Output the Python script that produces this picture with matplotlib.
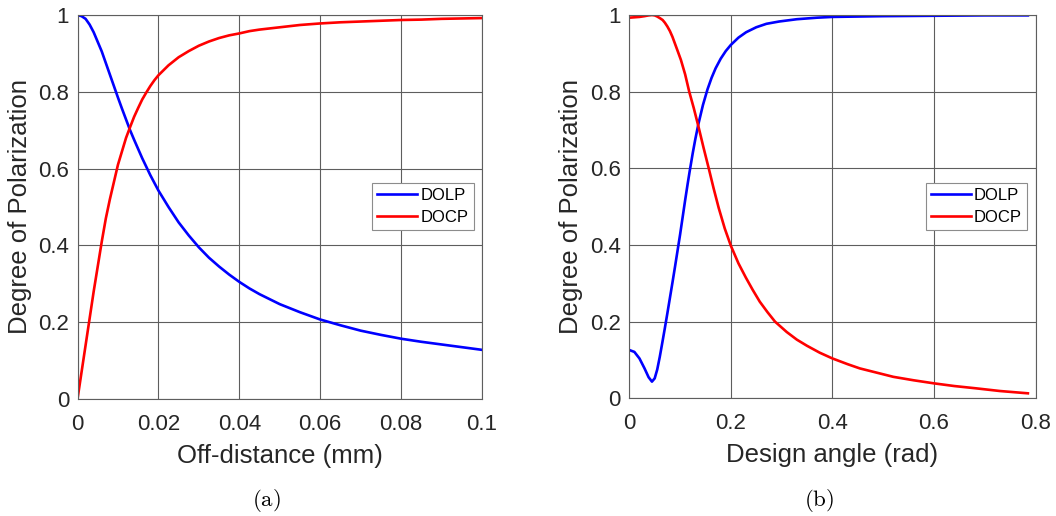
import matplotlib
matplotlib.use('Agg')
import matplotlib.pyplot as plt

plt.rcParams['font.family'] = ['Liberation Sans', 'DejaVu Sans']
plt.rcParams['mathtext.fontset'] = 'cm'

# (a) degree of polarization vs off-distance
off_mm = [0, 0.001, 0.002, 0.003, 0.004, 0.005, 0.006, 0.007, 0.008, 0.009,
          0.010, 0.011, 0.012, 0.013, 0.014, 0.015, 0.016, 0.017, 0.018,
          0.019, 0.020, 0.0225, 0.025, 0.0275, 0.030, 0.0325, 0.035, 0.0375,
          0.040, 0.0425, 0.045, 0.0475, 0.050, 0.055, 0.060, 0.065, 0.070,
          0.075, 0.080, 0.085, 0.090, 0.095, 0.100]
dolp_a = [1.0, 0.997, 0.99, 0.975, 0.955, 0.93, 0.905, 0.875, 0.845, 0.815,
          0.785, 0.756, 0.728, 0.70, 0.675, 0.651, 0.627, 0.605, 0.583,
          0.563, 0.543, 0.50, 0.46, 0.426, 0.395, 0.368, 0.345, 0.324,
          0.305, 0.288, 0.273, 0.26, 0.247, 0.226, 0.207, 0.192, 0.178,
          0.167, 0.157, 0.149, 0.142, 0.135, 0.128]
docp_a = [0.0, 0.07, 0.14, 0.21, 0.28, 0.345, 0.41, 0.47, 0.52, 0.565,
          0.61, 0.645, 0.68, 0.708, 0.735, 0.758, 0.78, 0.798, 0.815,
          0.83, 0.843, 0.869, 0.89, 0.906, 0.92, 0.931, 0.94, 0.947,
          0.952, 0.958, 0.962, 0.965, 0.968, 0.974, 0.978, 0.981, 0.983,
          0.985, 0.987, 0.988, 0.99, 0.991, 0.992]

# (b) degree of polarization vs design angle
ang_dolp = [0, 0.01, 0.02, 0.03, 0.038, 0.0446, 0.05, 0.055, 0.06, 0.065,
            0.07, 0.075, 0.08, 0.085, 0.09, 0.095, 0.10, 0.105, 0.11, 0.115,
            0.119, 0.125, 0.13, 0.136, 0.145, 0.154, 0.162, 0.17, 0.18,
            0.19, 0.2, 0.215, 0.23, 0.25, 0.27, 0.295, 0.33, 0.37, 0.4,
            0.5, 0.6, 0.7, 0.785]
dolp_b = [0.126, 0.121, 0.104, 0.078, 0.055, 0.0435, 0.052, 0.075, 0.108,
          0.145, 0.183, 0.222, 0.262, 0.302, 0.343, 0.385, 0.427, 0.472,
          0.517, 0.56, 0.593, 0.64, 0.676, 0.715, 0.765, 0.806, 0.836,
          0.861, 0.886, 0.906, 0.922, 0.941, 0.955, 0.968, 0.977, 0.983,
          0.989, 0.993, 0.995, 0.997, 0.998, 0.999, 0.999]
ang_docp = [0, 0.01, 0.02, 0.03, 0.038, 0.0446, 0.05, 0.055, 0.06, 0.0656,
            0.07, 0.075, 0.08, 0.085, 0.09, 0.095, 0.1016, 0.11, 0.118,
            0.127, 0.136, 0.146, 0.157, 0.166, 0.176, 0.188, 0.2, 0.215,
            0.2295, 0.243, 0.257, 0.272, 0.287, 0.31, 0.33, 0.35, 0.375,
            0.4, 0.43, 0.454, 0.49, 0.52, 0.56, 0.6, 0.64, 0.683, 0.73,
            0.785]
docp_b = [0.993, 0.994, 0.995, 0.997, 0.999, 1.0, 0.999, 0.996, 0.992, 0.987,
          0.98, 0.97, 0.958, 0.943, 0.925, 0.907, 0.883, 0.845, 0.8,
          0.757, 0.71, 0.655, 0.597, 0.548, 0.497, 0.443, 0.398, 0.352,
          0.315, 0.283, 0.252, 0.225, 0.2, 0.173, 0.153, 0.137, 0.119,
          0.104, 0.089, 0.078, 0.066, 0.056, 0.047, 0.039, 0.032, 0.026,
          0.019, 0.013]

fig = plt.figure(figsize=(10.56, 5.16), dpi=100)
ax1 = fig.add_axes([77.5 / 1056, 117 / 516, 404.5 / 1056, 384 / 516])
ax2 = fig.add_axes([629.3 / 1056, 117.7 / 516, 406.2 / 1056, 383.3 / 516])

panels = [
    (ax1, off_mm, dolp_a, off_mm, docp_a, 0.1,
     [0, 0.02, 0.04, 0.06, 0.08, 0.1], ['0', '0.02', '0.04', '0.06', '0.08', '0.1'],
     'Off-distance (mm)'),
    (ax2, ang_dolp, dolp_b, ang_docp, docp_b, 0.8,
     [0, 0.2, 0.4, 0.6, 0.8], ['0', '0.2', '0.4', '0.6', '0.8'],
     'Design angle (rad)'),
]

for ax, xd, yd, xc, yc, xmax, xt, xtl, xlab in panels:
    ax.plot(xd, yd, color='#0000ff', lw=1.9, label='DOLP',
            solid_joinstyle='round')
    ax.plot(xc, yc, color='#ff0000', lw=1.9, label='DOCP',
            solid_joinstyle='round')
    ax.set_xlim(0, xmax)
    ax.set_ylim(0, 1)
    ax.set_xticks(xt)
    ax.set_xticklabels(xtl)
    ax.set_yticks([0, 0.2, 0.4, 0.6, 0.8, 1])
    ax.set_yticklabels(['0', '0.2', '0.4', '0.6', '0.8', '1'])
    ax.grid(True, color='#5e5e5e', lw=0.8)
    ax.set_axisbelow(True)
    for sp in ax.spines.values():
        sp.set_color('#5e5e5e')
        sp.set_linewidth(0.8)
    ax.tick_params(length=0, labelsize=16, colors='#262626')
    ax.tick_params(axis='x', pad=10.5)
    ax.tick_params(axis='y', pad=6)
    ax.set_xlabel(xlab, fontsize=18.5, color='#262626', va='baseline')
    ax.xaxis.set_label_coords(0.5, -0.166)
    ax.set_ylabel('Degree of Polarization', fontsize=18.5, color='#262626',
                  va='baseline')
    ax.yaxis.set_label_coords(-0.126, 0.5)
    leg = ax.legend(loc='upper right', bbox_to_anchor=(0.979, 0.563),
                    borderaxespad=0, fancybox=False, fontsize=12,
                    handlelength=2.4, handletextpad=0.2, borderpad=0.3,
                    labelspacing=0.45, framealpha=1)
    leg.get_frame().set_edgecolor('#8c8c8c')
    leg.get_frame().set_linewidth(0.8)

fig.text(266 / 1056, 15.5 / 516, r'$\mathrm{(a)}$', fontsize=16.5,
         ha='center', va='center')
fig.text(819 / 1056, 15.5 / 516, r'$\mathrm{(b)}$', fontsize=16.5,
         ha='center', va='center')

fig.savefig('out.png', dpi=100)
